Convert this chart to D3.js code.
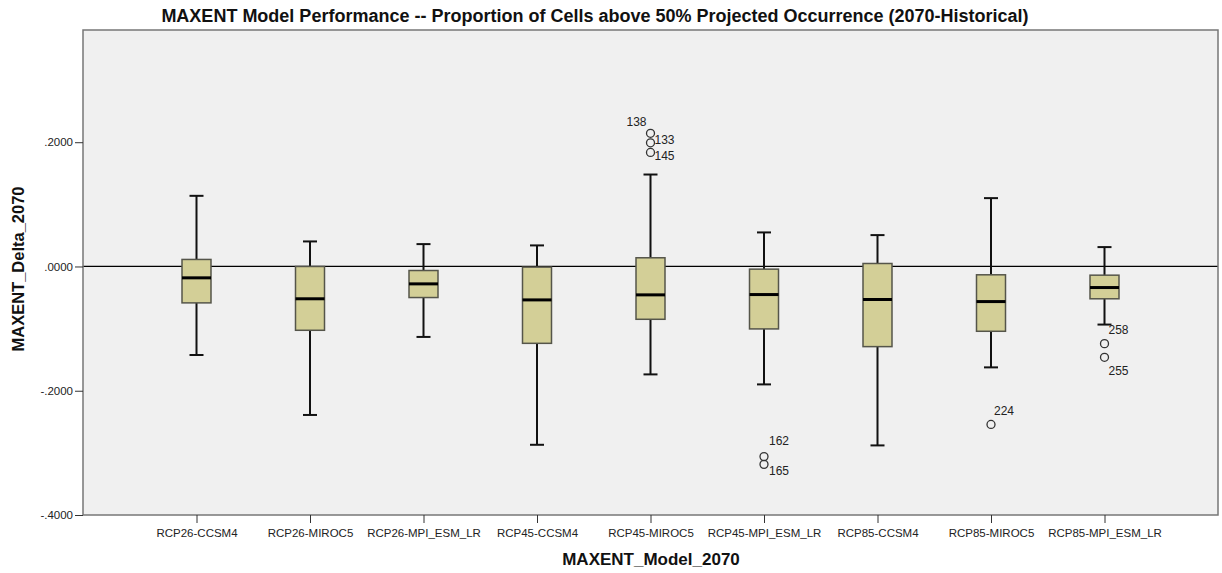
<!DOCTYPE html>
<html>
<head>
<meta charset="utf-8">
<script src="https://cdn.jsdelivr.net/npm/d3@7/dist/d3.min.js"></script>
<style>
  html, body { margin: 0; padding: 0; background: #ffffff; }
  svg { display: block; font-family: "Liberation Sans", Arial, sans-serif; }
</style>
</head>
<body>
<svg id="chart" width="1222" height="573"></svg>
<script>
// ---- data ----
const categories = ["RCP26-CCSM4", "RCP26-MIROC5", "RCP26-MPI_ESM_LR", "RCP45-CCSM4", "RCP45-MIROC5",
                    "RCP45-MPI_ESM_LR", "RCP85-CCSM4", "RCP85-MIROC5", "RCP85-MPI_ESM_LR"];
const whiskerHigh = [0.1137, 0.0403, 0.0360, 0.0339, 0.1480, 0.0548, 0.0505, 0.1100, 0.0312];
const q3Values    = [0.0113, 0.0000, -0.0065, -0.0010, 0.0140, -0.0043, 0.0048, -0.0134, -0.0140];
const medians     = [-0.0183, -0.0520, -0.0280, -0.0538, -0.0457, -0.0452, -0.0532, -0.0565, -0.0339];
const q1Values    = [-0.0586, -0.1027, -0.0500, -0.1237, -0.0850, -0.1005, -0.1290, -0.1043, -0.0520];
const whiskerLow  = [-0.1425, -0.2390, -0.1134, -0.2870, -0.1737, -0.1898, -0.2880, -0.1624, -0.0935];
const outlierCats   = ["RCP45-MIROC5", "RCP45-MIROC5", "RCP45-MIROC5", "RCP45-MPI_ESM_LR", "RCP45-MPI_ESM_LR",
                       "RCP85-MIROC5", "RCP85-MPI_ESM_LR", "RCP85-MPI_ESM_LR"];
const outlierValues = [0.2143, 0.1990, 0.1835, -0.3060, -0.3185, -0.2543, -0.1242, -0.1462];
const outlierIds    = ["138", "133", "145", "162", "165", "224", "258", "255"];
const yTicks = [-0.4, -0.2, 0.0, 0.2];
const yMin = -0.4, yMax = 0.3806;
const titleText = "MAXENT Model Performance -- Proportion of Cells above 50% Projected Occurrence (2070-Historical)";
const xTitle = "MAXENT_Model_2070";
const yTitle = "MAXENT_Delta_2070";

// label placement (style only): [dx, dy(center), anchor]
const labelPlace = {
  "138": [-4, -12, "end"], "133": [4, -3, "start"], "145": [4, 3, "start"],
  "162": [5, -16, "start"], "165": [5, 6, "start"], "224": [3, -14, "start"],
  "258": [4, -14, "start"], "255": [4, 13, "start"]
};

// ---- layout ----
const plot = { left: 83, top: 30, right: 1218, bottom: 515 };
const svg = d3.select("#chart");

const x = d3.scalePoint().domain(categories).range([plot.left, plot.right]).padding(1);
const y = d3.scaleLinear().domain([yMin, yMax]).range([plot.bottom, plot.top]);

// plot background
svg.append("rect")
  .attr("x", plot.left).attr("y", plot.top)
  .attr("width", plot.right - plot.left).attr("height", plot.bottom - plot.top)
  .attr("fill", "#f0f0f0");

// zero reference line
svg.append("line")
  .attr("x1", plot.left).attr("x2", plot.right)
  .attr("y1", y(0)).attr("y2", y(0))
  .attr("stroke", "#000").attr("stroke-width", 1.3);

// boxes
const boxW = 29, capW = 14;
const boxes = categories.map((c, i) => ({ c, hi: whiskerHigh[i], q3: q3Values[i], med: medians[i], q1: q1Values[i], lo: whiskerLow[i] }));
const g = svg.append("g");
boxes.forEach(b => {
  const cx = x(b.c);
  g.append("line").attr("x1", cx).attr("x2", cx).attr("y1", y(b.hi)).attr("y2", y(b.q3))
    .attr("stroke", "#111").attr("stroke-width", 2);
  g.append("line").attr("x1", cx - capW / 2).attr("x2", cx + capW / 2).attr("y1", y(b.hi)).attr("y2", y(b.hi))
    .attr("stroke", "#111").attr("stroke-width", 2);
  g.append("line").attr("x1", cx).attr("x2", cx).attr("y1", y(b.q1)).attr("y2", y(b.lo))
    .attr("stroke", "#111").attr("stroke-width", 2);
  g.append("line").attr("x1", cx - capW / 2).attr("x2", cx + capW / 2).attr("y1", y(b.lo)).attr("y2", y(b.lo))
    .attr("stroke", "#111").attr("stroke-width", 2);
  g.append("rect").attr("x", cx - boxW / 2).attr("y", y(b.q3))
    .attr("width", boxW).attr("height", y(b.q1) - y(b.q3))
    .attr("fill", "#d3cf97").attr("stroke", "#55554a").attr("stroke-width", 1.5);
  g.append("line").attr("x1", cx - boxW / 2).attr("x2", cx + boxW / 2).attr("y1", y(b.med)).attr("y2", y(b.med))
    .attr("stroke", "#000").attr("stroke-width", 3);
});

// outliers
outlierValues.forEach((v, i) => {
  const cx = x(outlierCats[i]), cy = y(v);
  g.append("circle").attr("cx", cx).attr("cy", cy).attr("r", 4)
    .attr("fill", "none").attr("stroke", "#333").attr("stroke-width", 1.3);
  const p = labelPlace[outlierIds[i]] || [4, 0, "start"];
  g.append("text").attr("x", cx + p[0]).attr("y", cy + p[1])
    .attr("dy", "0.35em").attr("text-anchor", p[2])
    .attr("font-size", 12).attr("fill", "#222").text(outlierIds[i]);
});

// plot border
svg.append("rect")
  .attr("x", plot.left).attr("y", plot.top)
  .attr("width", plot.right - plot.left).attr("height", plot.bottom - plot.top)
  .attr("fill", "none").attr("stroke", "#777").attr("stroke-width", 1.5);

// y axis
const fmtTick = d => {
  const s = Math.abs(d).toFixed(4).replace(/^0\./, ".");
  return (d < 0 ? "-" : "") + s;
};
const yAxis = d3.axisLeft(y).tickValues(yTicks).tickSize(8).tickPadding(2).tickFormat(fmtTick);
const ya = svg.append("g").attr("transform", `translate(${plot.left},0)`).call(yAxis);
ya.select(".domain").remove();
ya.selectAll(".tick line").attr("stroke", "#333");
ya.selectAll(".tick text").attr("font-size", 11.5).attr("fill", "#222").attr("font-family", "Liberation Sans, Arial, sans-serif");

// x axis
const xAxis = d3.axisBottom(x).tickSize(8).tickPadding(6);
const xa = svg.append("g").attr("transform", `translate(0,${plot.bottom})`).call(xAxis);
xa.select(".domain").remove();
xa.selectAll(".tick line").attr("stroke", "#333");
xa.selectAll(".tick text").attr("font-size", 11.5).attr("fill", "#222").attr("font-family", "Liberation Sans, Arial, sans-serif");

// titles
svg.append("text").attr("x", 595).attr("y", 22).attr("text-anchor", "middle")
  .attr("font-size", 18).attr("font-weight", "bold").attr("fill", "#111").text(titleText);
svg.append("text").attr("x", 651).attr("y", 565).attr("text-anchor", "middle")
  .attr("font-size", 17).attr("font-weight", "bold").attr("fill", "#111").text(xTitle);
svg.append("text").attr("transform", `translate(24,269) rotate(-90)`).attr("text-anchor", "middle")
  .attr("font-size", 16.5).attr("font-weight", "bold").attr("fill", "#111").text(yTitle);
</script>
</body>
</html>
